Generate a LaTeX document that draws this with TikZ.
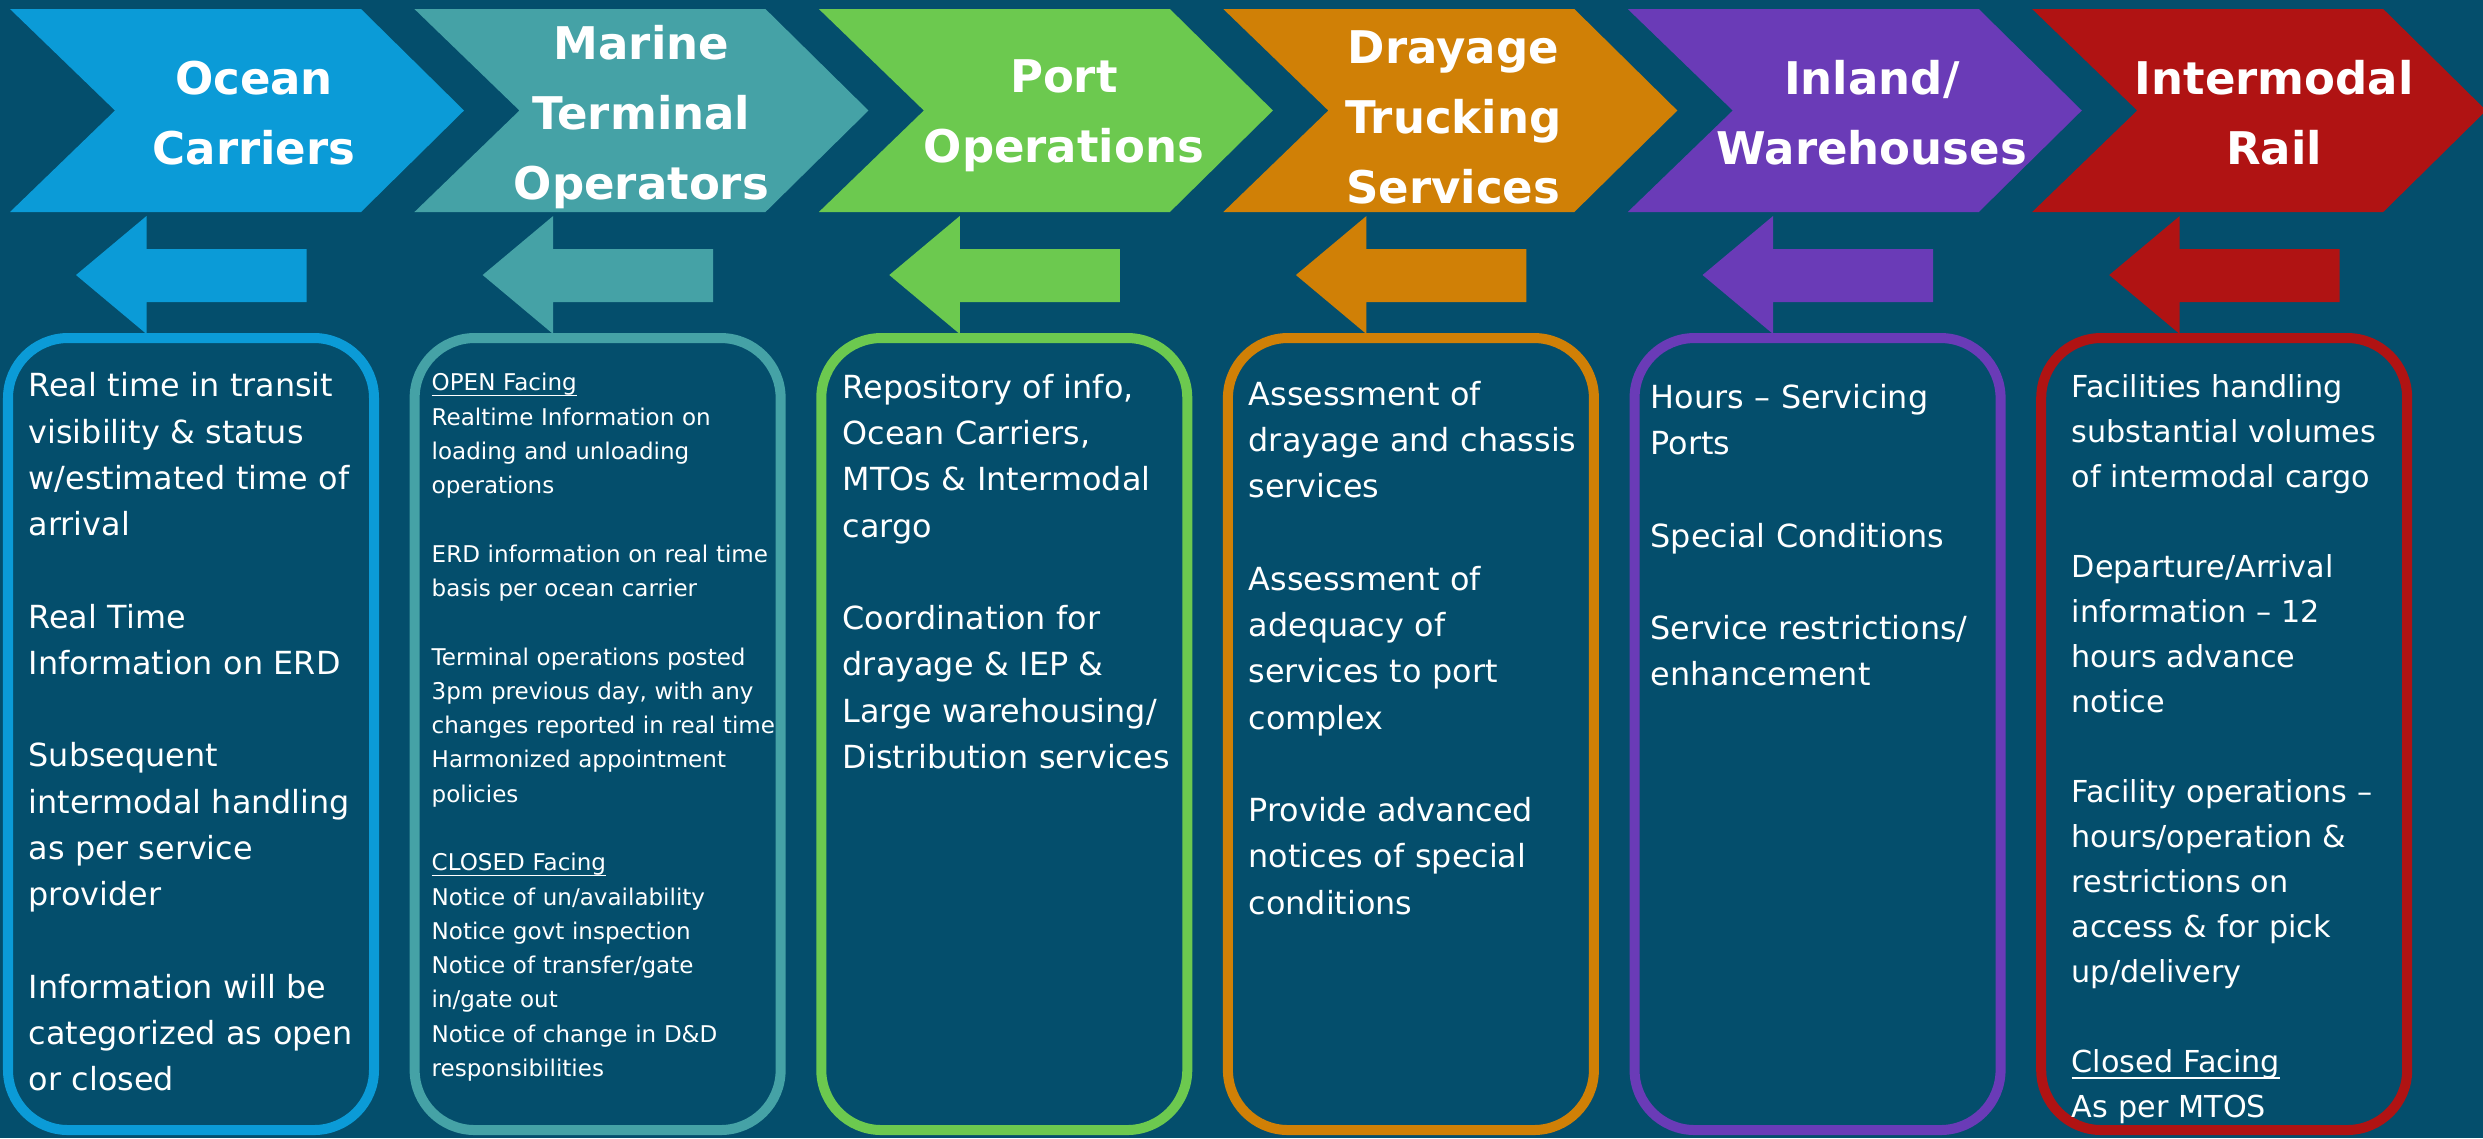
\documentclass[tikz,border=0pt]{standalone}
\usepackage{fontspec}
\setmainfont{DejaVu Sans}
\usepackage{xcolor}
\usepackage{tikz}

\definecolor{bgblue}{HTML}{044E6C}
\definecolor{oceanblue}{HTML}{0B9BD7}
\definecolor{marineteal}{HTML}{45A2A6}
\definecolor{portgreen}{HTML}{6CC94F}
\definecolor{drayorange}{HTML}{D08006}
\definecolor{inlandpurple}{HTML}{6A3BB7}
\definecolor{railred}{HTML}{B01313}

\newcommand{\facing}[1]{\rule{0pt}{0.76em}\underline{\smash{#1}}}

\tikzset{
    title/.style={text=white,align=center,inner sep=0pt,
        font=\fontsize{12.8}{19.9}\selectfont\bfseries},
    infobox/.style={line width=1mm,rounded corners=6mm},
    infotext/.style={text=white,anchor=north west,inner sep=0pt,
        text width=3.6cm,align=left,
        font=\fontsize{9.05}{13.15}\selectfont},
}

\begin{document}
\begin{tikzpicture}[x=0.01cm,y=-0.01cm]
    % Background
    \fill[bgblue] (0,0) rectangle (2483,1138);
    \useasboundingbox (0,0) rectangle (2483,1138);

    % Chevrons and titles
    \foreach \i / \col / \tx / \ty / \ttl in {0/oceanblue/254/113/{Ocean\\Carriers},
            1/marineteal/237/117/{Marine\\Terminal\\Operators},
            2/portgreen/255/116/{Port\\Operations},
            3/drayorange/240/117/{Drayage\\Trucking\\Services},
            4/inlandpurple/254/113/{Inland/\\Warehouses},
            5/railred/252/113/{Intermodal\\Rail}} {
        \begin{scope}[xshift=\i*4.042cm]
            \fill[\col] (10,9) -- (361,9) -- (464,110.5) -- (361,212)
                -- (10,212) -- (115,110.5) -- cycle;
            \node[title] (title\i) at (\tx,\ty) {\ttl};
        \end{scope}
    }

    % Back arrows and boxes
    \foreach \i / \col in {0/oceanblue,1/marineteal,2/portgreen,
            3/drayorange,4/inlandpurple,5/railred} {
        \begin{scope}[xshift=\i*4.064cm]
            \fill[\col] (76,275) -- (146.5,216) -- (146.5,249) -- (306.5,249)
                -- (306.5,302) -- (146.5,302) -- (146.5,334) -- cycle;
            \draw[infobox,draw=\col] (8,338) rectangle (374,1130);
        \end{scope}
    }

    % Ocean Carriers
    \node[infotext] (info0) at (28,372) {Real time in transit\\
        visibility \& status\\ w/estimated time of\\ arrival\\[\baselineskip]
        Real Time\\ Information on ERD\\[\baselineskip]
        Subsequent\\ intermodal handling\\ as per service\\ provider\\[\baselineskip]
        Information will be\\ categorized as open\\ or closed};

    % Marine Terminal Operators
    \node[infotext,font=\fontsize{6.55}{9.75}\selectfont] (info1) at (431,372.5) {%
        \facing{OPEN Facing}\\ Realtime Information on\\ loading and unloading\\
        operations\\[\baselineskip]
        ERD information on real time\\ basis per ocean carrier\\[\baselineskip]
        Terminal operations posted\\ 3pm previous day, with any\\
        changes reported in real time\\ Harmonized appointment\\ policies\\[\baselineskip]
        \facing{CLOSED Facing}\\ Notice of un/availability\\ Notice govt inspection\\
        Notice of transfer/gate\\ in/gate out\\ Notice of change in D\&D\\
        responsibilities};

    % Port Operations
    \node[infotext] (info2) at (842,373.5) {Repository of info,\\
        Ocean Carriers,\\ MTOs \& Intermodal\\ cargo\\[\baselineskip]
        Coordination for\\ drayage \& IEP \&\\ Large warehousing/\\
        Distribution services};

    % Drayage Trucking Services
    \node[infotext] (info3) at (1248,380.5) {Assessment of\\
        drayage and chassis\\ services\\[\baselineskip]
        Assessment of\\ adequacy of\\ services to port\\ complex\\[\baselineskip]
        Provide advanced\\ notices of special\\ conditions};

    % Inland/Warehouses
    \node[infotext] (info4) at (1650,383.5) {Hours – Servicing\\
        Ports\\[\baselineskip]
        Special Conditions\\[\baselineskip]
        Service restrictions/\\ enhancement};

    % Intermodal Rail
    \node[infotext,font=\fontsize{8.6}{12.8}\selectfont] (info5) at (2071,374) {%
        Facilities handling\\ substantial volumes\\ of intermodal cargo\\[\baselineskip]
        Departure/Arrival\\ information – 12\\ hours advance\\ notice\\[\baselineskip]
        Facility operations –\\ hours/operation \&\\ restrictions on\\
        access \& for pick\\ up/delivery\\[\baselineskip]
        \facing{Closed Facing}\\ As per MTOS};

\end{tikzpicture}
\end{document}
